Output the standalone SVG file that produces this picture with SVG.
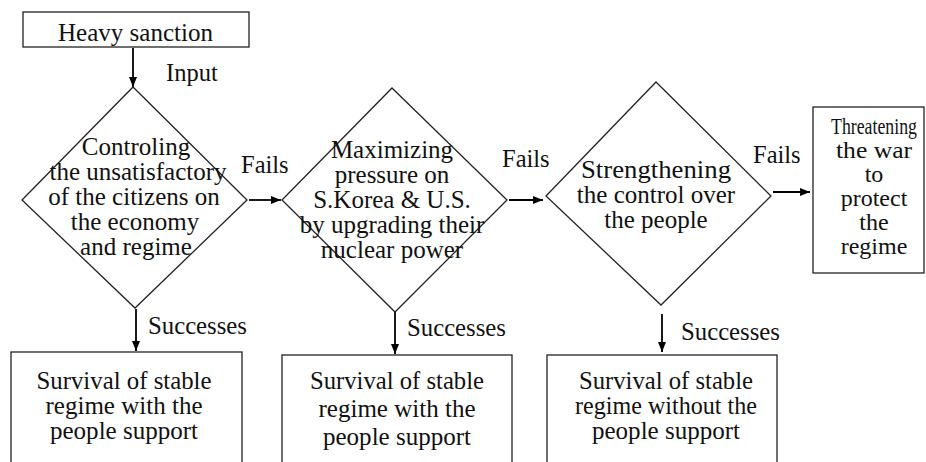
<svg xmlns="http://www.w3.org/2000/svg" width="926" height="462" viewBox="0 0 926 462">
<style>
.s{fill:#fff;stroke:#222;stroke-width:1.3}
.t{font-family:"Liberation Serif","DejaVu Serif",serif;font-size:25px;fill:#111;text-anchor:middle}
.r{font-size:24px}
.l{font-family:"Liberation Serif","DejaVu Serif",serif;font-size:24.5px;fill:#111}
.c{stroke:#000;stroke-width:1.8;fill:none;marker-end:url(#ah)}
</style>
<defs>
<marker id="ah" viewBox="0 0 10 10" refX="10" refY="5" markerWidth="10" markerHeight="10" markerUnits="userSpaceOnUse" orient="auto">
<path d="M0,1 L10,5 L0,9 Z" fill="#000"/>
</marker>
<clipPath id="hc"><rect x="23" y="12" width="226" height="35"/></clipPath>
</defs>
<rect width="926" height="462" fill="#fff"/>
<g id="connectors">
<line class="c" x1="133" y1="48" x2="133" y2="87"/>
<line class="c" x1="249" y1="200" x2="281" y2="200"/>
<line class="c" x1="509" y1="200" x2="543" y2="200"/>
<line class="c" x1="773" y1="192" x2="810" y2="192"/>
<line class="c" x1="136" y1="309" x2="136" y2="351"/>
<line class="c" x1="395" y1="312" x2="395" y2="354"/>
<line class="c" x1="662" y1="314" x2="662" y2="352"/>
<text class="l" x="166" y="81">Input</text>
<text class="l" x="241" y="173">Fails</text>
<text class="l" x="502" y="167">Fails</text>
<text class="l" x="753" y="163">Fails</text>
<text class="l" x="148" y="334" textLength="99" lengthAdjust="spacingAndGlyphs">Successes</text>
<text class="l" x="407" y="336" textLength="99" lengthAdjust="spacingAndGlyphs">Successes</text>
<text class="l" x="681" y="340" textLength="99" lengthAdjust="spacingAndGlyphs">Successes</text>
</g>
<g id="start">
<rect class="s" x="23" y="12" width="226" height="35"/>
<text class="t" x="135.5" y="41" clip-path="url(#hc)" textLength="155" lengthAdjust="spacingAndGlyphs">Heavy sanction</text>
</g>
<g id="d1">
<polygon class="s" points="133,87 247,200 135,308 22,200"/>
<text class="t" x="136" y="155">Controling</text>
<text class="t" x="138" y="180">the unsatisfactory</text>
<text class="t" x="134" y="205">of the citizens on</text>
<text class="t" x="135" y="230">the economy</text>
<text class="t" x="136" y="255">and regime</text>
</g>
<g id="d2">
<polygon class="s" points="392,88 507,200 395,312 282,200"/>
<text class="t" x="392" y="158">Maximizing</text>
<text class="t" x="392" y="183">pressure on</text>
<text class="t" x="392" y="208">S.Korea &amp; U.S.</text>
<text class="t" x="392" y="233">by upgrading their</text>
<text class="t" x="392" y="258">nuclear power</text>
</g>
<g id="d3">
<polygon class="s" points="656,82 771,196 661,305 546,196"/>
<text class="t" x="656" y="178" textLength="150" lengthAdjust="spacingAndGlyphs">Strengthening</text>
<text class="t" x="656" y="203">the control over</text>
<text class="t" x="656" y="228">the people</text>
</g>
<g id="end">
<rect class="s" x="813" y="107" width="111" height="166"/>
<text class="t" x="0" y="0" style="font-size:19px" transform="translate(874,134) scale(1,1.26)" textLength="86" lengthAdjust="spacingAndGlyphs">Threatening</text>
<text class="t r" x="874" y="158" textLength="76" lengthAdjust="spacingAndGlyphs">the war</text>
<text class="t r" x="874" y="182">to</text>
<text class="t r" x="874" y="206">protect</text>
<text class="t r" x="874" y="230">the</text>
<text class="t r" x="874" y="254">regime</text>
</g>
<g id="b1">
<rect class="s" x="11" y="352" width="231" height="130"/>
<text class="t" x="124" y="389" textLength="175" lengthAdjust="spacingAndGlyphs">Survival of stable</text>
<text class="t" x="124" y="414" textLength="157" lengthAdjust="spacingAndGlyphs">regime with the</text>
<text class="t" x="124" y="439" textLength="148" lengthAdjust="spacingAndGlyphs">people support</text>
</g>
<g id="b2">
<rect class="s" x="282" y="355" width="230" height="130"/>
<text class="t" x="397" y="389" textLength="174" lengthAdjust="spacingAndGlyphs">Survival of stable</text>
<text class="t" x="397" y="417" textLength="157" lengthAdjust="spacingAndGlyphs">regime with the</text>
<text class="t" x="397" y="445" textLength="148" lengthAdjust="spacingAndGlyphs">people support</text>
</g>
<g id="b3">
<rect class="s" x="547" y="355" width="230" height="130"/>
<text class="t" x="666" y="389" textLength="174" lengthAdjust="spacingAndGlyphs">Survival of stable</text>
<text class="t" x="666" y="414" textLength="182" lengthAdjust="spacingAndGlyphs">regime without the</text>
<text class="t" x="666" y="439" textLength="148" lengthAdjust="spacingAndGlyphs">people support</text>
</g>
</svg>
